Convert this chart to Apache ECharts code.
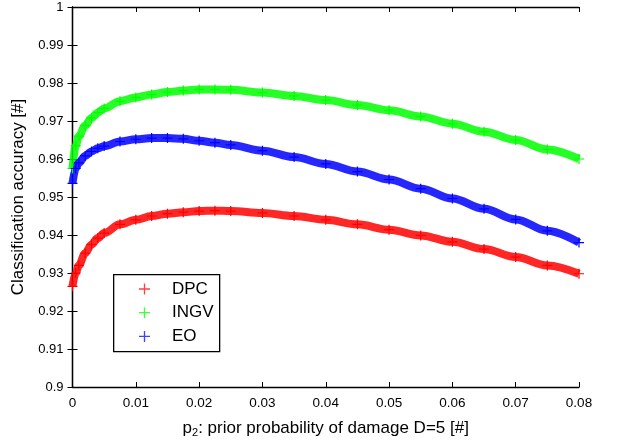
<!DOCTYPE html>
<html>
<head>
<meta charset="utf-8">
<script src="https://cdn.jsdelivr.net/npm/echarts@6/dist/echarts.min.js"></script>
<style>
html,body{margin:0;padding:0;background:#fff;}
#chart{width:620px;height:443px;}
</style>
</head>
<body>
<div id="chart"></div>
<script>
const seriesNames = ['DPC', 'INGV', 'EO'];
const xValues = [0, 0.0005, 0.001, 0.002, 0.003, 0.004, 0.005, 0.0075, 0.01, 0.0125, 0.015, 0.0175, 0.02, 0.0225, 0.025, 0.03, 0.035, 0.04, 0.045, 0.05, 0.055, 0.06, 0.065, 0.07, 0.075, 0.08];
const dpcValues = [0.9265, 0.9300, 0.9320, 0.9352, 0.9375, 0.9392, 0.9405, 0.9428, 0.9440, 0.9450, 0.9456, 0.9460, 0.9463, 0.9464, 0.9463, 0.9458, 0.9450, 0.9440, 0.9428, 0.9414, 0.9399, 0.9382, 0.9363, 0.9342, 0.9320, 0.9298];
const ingvValues = [0.9575, 0.9635, 0.9660, 0.9688, 0.9708, 0.9722, 0.9733, 0.9752, 0.9762, 0.9770, 0.9776, 0.9780, 0.9783, 0.9783, 0.9782, 0.9775, 0.9766, 0.9755, 0.9742, 0.9728, 0.9712, 0.9693, 0.9672, 0.9650, 0.9625, 0.9600];
const eoValues = [0.9536, 0.9575, 0.9590, 0.9608, 0.9620, 0.9628, 0.9634, 0.9646, 0.9652, 0.9655, 0.9655, 0.9653, 0.9648, 0.9643, 0.9637, 0.9622, 0.9605, 0.9587, 0.9567, 0.9546, 0.9522, 0.9496, 0.9469, 0.9441, 0.9411, 0.9380];
const xTicks = ['0', '0.01', '0.02', '0.03', '0.04', '0.05', '0.06', '0.07', '0.08'];
const yTicks = ['0.9', '0.91', '0.92', '0.93', '0.94', '0.95', '0.96', '0.97', '0.98', '0.99', '1'];
const colors = ['#ff0000', '#00ff00', '#0000ff'];

const plus = 'path://M4.4,0h1.2v4.4h4.4v1.2h-4.4v4.4h-1.2v-4.4h-4.4v-1.2h4.4z';
const font = "'Liberation Sans', Arial, Helvetica, sans-serif";

function pairs(ys) { return xValues.map((x, i) => [x, ys[i]]); }
const allValues = [dpcValues, ingvValues, eoValues];

const chart = echarts.init(document.getElementById('chart'), null, {renderer: 'canvas'});
const axisCommon = {
  axisLine: {show: true, lineStyle: {color: '#000', width: 1.3}},
  axisTick: {show: true, inside: true, length: 5, lineStyle: {color: '#000', width: 1}},
  splitLine: {show: false}
};
chart.setOption({
  animation: false,
  backgroundColor: '#fff',
  grid: {left: 72.5, right: 41, top: 7, bottom: 51, containLabel: false},
  xAxis: [
    Object.assign({
      type: 'value', min: 0, max: 0.08, interval: 0.01, position: 'bottom',
      axisLabel: {color: '#000', fontFamily: font, fontSize: 13.5, margin: 9,
        formatter: (v) => xTicks[Math.round(v / 0.01)]},
      name: '{p|p}{s|2}{t|: prior probability of damage D=5 [#]}',
      nameLocation: 'middle', nameGap: 31,
      nameTextStyle: {rich: {
        p: {fontFamily: font, fontSize: 17, color: '#000'},
        s: {fontFamily: font, fontSize: 11, color: '#000', verticalAlign: 'bottom', padding: [9, 0, 0, 0]},
        t: {fontFamily: font, fontSize: 17, color: '#000'}
      }}
    }, axisCommon),
    Object.assign({
      type: 'value', min: 0, max: 0.08, interval: 0.01, position: 'top',
      axisLabel: {show: false}
    }, axisCommon)
  ],
  yAxis: [
    Object.assign({
      type: 'value', min: 0.9, max: 1, interval: 0.01, position: 'left',
      axisLabel: {color: '#000', fontFamily: font, fontSize: 13, margin: 9,
        formatter: (v) => yTicks[Math.round((v - 0.9) / 0.01)]},
      name: 'Classification accuracy [#]', nameLocation: 'middle', nameGap: 40,
      nameTextStyle: {fontFamily: font, fontSize: 17, color: '#000'}
    }, axisCommon),
    Object.assign({
      type: 'value', min: 0.9, max: 1, interval: 0.01, position: 'right',
      axisLabel: {show: false}
    }, axisCommon)
  ],
  legend: {
    orient: 'vertical', left: 139, top: 280, itemGap: 5.7, padding: 0,
    itemWidth: 11, itemHeight: 11, icon: plus,
    textStyle: {fontFamily: font, fontSize: 17, color: '#000', lineHeight: 18, padding: [0, 0, 0, 17]},
    data: seriesNames.map((n, i) => ({name: n, itemStyle: {color: colors[i], opacity: 0.75}}))
  },
  graphic: [{
    type: 'rect', left: 113, top: 274, z: 0,
    shape: {width: 106, height: 77},
    style: {fill: '#fff', stroke: '#000', lineWidth: 1.3}
  }],
  series: seriesNames.map((n, i) => ({
    name: n, type: 'line', data: pairs(allValues[i]),
    smooth: 0.35, smoothMonotone: 'x',
    symbol: plus, symbolSize: 10, showSymbol: true,
    itemStyle: {color: colors[i]},
    lineStyle: {color: colors[i], width: 8, opacity: 0.85},
    clip: false, z: 2
  }))
});
</script>
</body>
</html>
